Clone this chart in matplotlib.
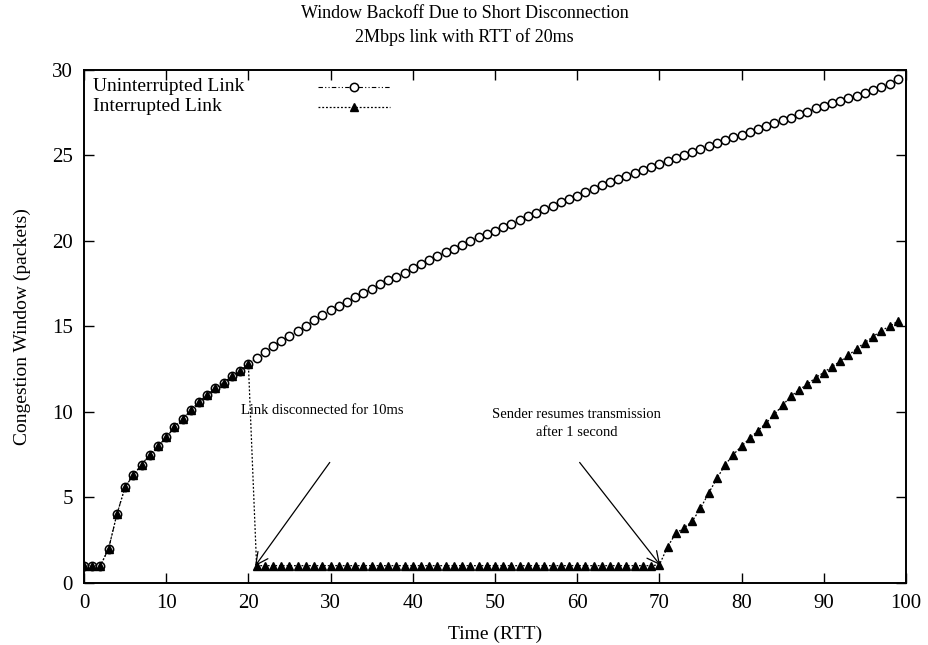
import matplotlib
matplotlib.use("Agg")
from matplotlib import pyplot as plt

plt.rcParams['font.family'] = ['Liberation Serif', 'DejaVu Serif']

# time in RTTs
time = list(range(0, 100))

uninterrupted = [
    1.0, 1.0, 1.0, 2.0, 4.0, 5.6, 6.3, 6.9, 7.5, 8.0,
    8.5, 9.1, 9.6, 10.1, 10.6, 11.0, 11.4, 11.7, 12.1, 12.4,
    12.8, 13.15, 13.5, 13.85, 14.15, 14.45, 14.75, 15.05, 15.35, 15.65,
    15.95, 16.2, 16.45, 16.7, 16.95, 17.2, 17.45, 17.7, 17.9, 18.15,
    18.4, 18.65, 18.9, 19.1, 19.35, 19.55, 19.75, 20.0, 20.2, 20.4,
    20.6, 20.8, 21.0, 21.2, 21.45, 21.65, 21.85, 22.05, 22.25, 22.45,
    22.65, 22.85, 23.05, 23.25, 23.45, 23.6, 23.8, 24.0, 24.15, 24.35,
    24.5, 24.7, 24.85, 25.05, 25.2, 25.4, 25.55, 25.7, 25.9, 26.05,
    26.2, 26.35, 26.55, 26.7, 26.9, 27.05, 27.2, 27.4, 27.55, 27.75,
    27.9, 28.05, 28.2, 28.35, 28.5, 28.65, 28.85, 29.0, 29.2, 29.45,
]

interrupted = [
    1.0, 1.0, 1.0, 2.0, 4.0, 5.6, 6.3, 6.9, 7.5, 8.0,
    8.5, 9.1, 9.6, 10.1, 10.6, 11.0, 11.4, 11.7, 12.1, 12.4,
    12.8, 1.0, 1.0, 1.0, 1.0, 1.0, 1.0, 1.0, 1.0, 1.0,
    1.0, 1.0, 1.0, 1.0, 1.0, 1.0, 1.0, 1.0, 1.0, 1.0,
    1.0, 1.0, 1.0, 1.0, 1.0, 1.0, 1.0, 1.0, 1.0, 1.0,
    1.0, 1.0, 1.0, 1.0, 1.0, 1.0, 1.0, 1.0, 1.0, 1.0,
    1.0, 1.0, 1.0, 1.0, 1.0, 1.0, 1.0, 1.0, 1.0, 1.0,
    1.05, 2.1, 2.9, 3.2, 3.6, 4.35, 5.25, 6.1, 6.9, 7.5,
    8.0, 8.45, 8.9, 9.35, 9.85, 10.4, 10.9, 11.3, 11.6, 12.0,
    12.3, 12.65, 12.95, 13.3, 13.7, 14.05, 14.4, 14.75, 15.0, 15.3,
]

series_names = ["Uninterrupted Link", "Interrupted Link"]
x_ticks = list(range(0, 101, 10))
y_ticks = list(range(0, 31, 5))

fig = plt.figure(figsize=(9.29, 6.45), dpi=100)
ax = fig.add_axes([0.0904, 0.0965, 0.8848, 0.795])

l1, = ax.plot(time, uninterrupted, color='black', lw=0.8,
              linestyle=(0, (4, 2, 1, 2, 1, 2)),
              marker='o', markersize=6, markerfacecolor='white',
              markeredgecolor='black', markeredgewidth=1.1)
l2, = ax.plot(time, interrupted, color='black', lw=0.9,
              linestyle=(0, (1.5, 1.5)),
              marker='^', markersize=6.3, markerfacecolor='black',
              markeredgecolor='black')

ax.set_xlim(0, 100)
ax.set_ylim(0, 30)
ax.set_xticks(x_ticks)
ax.set_yticks(y_ticks)
ax.tick_params(direction='in', length=7, width=1, top=True, right=True,
               labelsize=15, pad=8)
for s in ax.spines.values():
    s.set_linewidth(1.4)

ax.set_xlabel("Time (RTT)", fontsize=14, labelpad=9)
ax.set_ylabel("Congestion Window (packets)", fontsize=14, labelpad=15)

fig.suptitle("Window Backoff Due to Short Disconnection\n2Mbps link with RTT of 20ms",
             fontsize=13, y=0.992, linespacing=1.45)

# gnuplot style key: labels on the left, samples on the right
ax.text(0.011, 0.967, series_names[0], transform=ax.transAxes,
        fontsize=14, va='center', ha='left')
ax.text(0.011, 0.928, series_names[1], transform=ax.transAxes,
        fontsize=14, va='center', ha='left')
ax.legend([l1, l2], ['', ''], loc='upper left', bbox_to_anchor=(0.285, 0.98),
          frameon=False, handlelength=3.7, handletextpad=0, borderpad=0,
          borderaxespad=0, labelspacing=0.14, fontsize=14)

ax.text(29.0, 10.07, "Link disconnected for 10ms", fontsize=10.5,
        ha='center', va='center')
ax.text(59.9, 9.3, "Sender resumes transmission\nafter 1 second", fontsize=10.5,
        ha='center', va='center', linespacing=1.5)
ax.annotate('', xy=(20.8, 0.97), xytext=(29.9, 7.04),
            arrowprops=dict(arrowstyle='->', lw=0.9, color='black',
                            shrinkA=0, shrinkB=0, mutation_scale=22))
ax.annotate('', xy=(70.1, 1.03), xytext=(60.3, 7.04),
            arrowprops=dict(arrowstyle='->', lw=0.9, color='black',
                            shrinkA=0, shrinkB=0, mutation_scale=22))

fig.savefig("out.png", dpi=100)
